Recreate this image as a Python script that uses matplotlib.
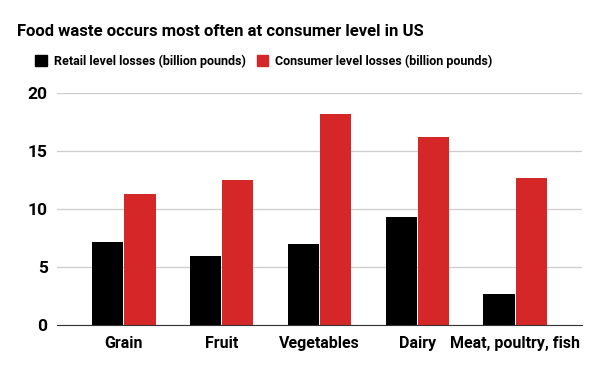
import numpy as np
import matplotlib.pyplot as plt
from matplotlib.patches import Patch

categories = ['Grain', 'Fruit', 'Vegetables', 'Dairy', 'Meat, poultry, fish']
retail = [7.2, 6.0, 7.0, 9.3, 2.7]
consumer = [11.3, 12.5, 18.2, 16.2, 12.7]
series_names = ['Retail level losses (billion pounds)', 'Consumer level losses (billion pounds)']
colors = ['#000000', '#d62728']

plt.rcParams['font.family'] = ['Roboto', 'DejaVu Sans']

fig = plt.figure(figsize=(6, 3.71), dpi=100)
ax = fig.add_axes([0.0955, 0.1232, 0.874, 0.6253])

x = np.arange(len(categories))
w = 0.32
ax.bar(x - w / 2 - 0.005, retail, w, color=colors[0], zorder=3)
ax.bar(x + w / 2 + 0.005, consumer, w, color=colors[1], zorder=3)

ax.set_xlim(-0.68, len(categories) - 0.32)
ax.set_ylim(0, 20)
ax.set_yticks([0, 5, 10, 15, 20])
ax.set_xticks(x)
ax.set_xticklabels(categories, fontweight='bold', fontsize=11.5)
for lab in ax.get_yticklabels():
    lab.set_fontweight('bold')
    lab.set_fontsize(12.5)
ax.tick_params(length=0, pad=8)
ax.tick_params(axis='y', pad=7)
ax.grid(axis='y', color='#cccccc', linewidth=0.9, zorder=0)
for s in ['top', 'right', 'left']:
    ax.spines[s].set_visible(False)
ax.spines['bottom'].set_color('#333333')
ax.spines['bottom'].set_zorder(4)

fig.text(0.028, 0.915, 'Food waste occurs most often at consumer level in US',
         fontsize=12, fontweight='bold', va='center', ha='left')

handles = [Patch(facecolor=c, edgecolor=c) for c in colors]
leg = fig.legend(handles, series_names, loc='center left', bbox_to_anchor=(0.04, 0.835),
                 ncol=2, frameon=False, prop={'weight': 'bold', 'size': 9.0},
                 handlelength=0.9, handleheight=0.9, handletextpad=0.6, columnspacing=0.85)

fig.savefig('out.png', dpi=100)
